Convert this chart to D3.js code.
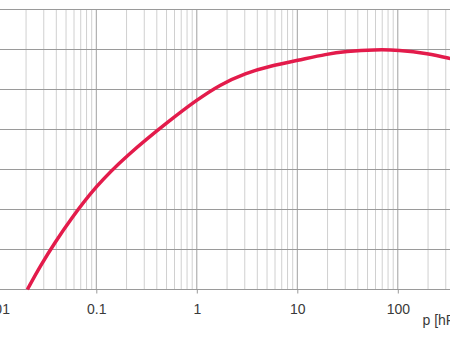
<!DOCTYPE html>
<html>
<head>
<meta charset="utf-8">
<script src="https://cdn.jsdelivr.net/npm/d3@7"></script>
<style>
  html, body { margin: 0; padding: 0; background: #fff; overflow: hidden; }
  text { font-family: "Liberation Sans", Arial, sans-serif; }
</style>
</head>
<body>
<div id="chart"></div>
<script>
const width = 450, height = 338;

// pressure p [hPa] and the curve value
const pressure = [0.0206, 0.0277, 0.0391, 0.0551, 0.0977, 0.202, 0.545, 1, 1.71, 3.04, 5.39, 10, 19.9, 30, 59.7, 101, 201, 333, 400];
const speed    = [0, 5.9, 11.9, 17.4, 25.7, 33.6, 42.4, 47.4, 51.25, 54.1, 55.9, 57.25, 58.9, 59.5, 60, 59.9, 59, 57.75, 57.3];

const decades = [0.01, 0.1, 1, 10, 100, 1000];
const tickLabels = ["0.01", "0.1", "1", "10", "100", "1000"];
const yGrid = [0, 10, 20, 30, 40, 50, 60, 70];

const x = d3.scaleLog()
  .domain([0.01, 1000])
  .range([-4.2, 498.3]);

const y = d3.scaleLinear()
  .domain([0, 70])
  .range([289.5, 9.5]);

const svg = d3.select("#chart").append("svg")
  .attr("width", width)
  .attr("height", height);

// minor + major vertical grid
const minor = [];
decades.slice(0, -1).forEach(d => {
  for (let k = 2; k <= 9; k++) minor.push(d * k);
});

svg.append("g").selectAll("line")
  .data(minor)
  .enter()
  .append("line")
    .attr("x1", d => x(d)).attr("x2", d => x(d))
    .attr("y1", y(70)).attr("y2", y(0))
    .attr("stroke", "#d0d0d0")
    .attr("stroke-width", 1);

svg.append("g").selectAll("line")
  .data(decades)
  .enter()
  .append("line")
    .attr("x1", d => x(d)).attr("x2", d => x(d))
    .attr("y1", y(70)).attr("y2", y(0))
    .attr("stroke", "#a0a0a0")
    .attr("stroke-width", 1);

// horizontal grid
svg.append("g").selectAll("line")
  .data(yGrid)
  .enter()
  .append("line")
    .attr("x1", 0).attr("x2", width)
    .attr("y1", d => y(d)).attr("y2", d => y(d))
    .attr("stroke", "#9a9a9a")
    .attr("stroke-width", 1);

// bottom axis: major ticks + labels
const axis = svg.append("g")
  .attr("transform", `translate(0,${y(0)})`)
  .call(d3.axisBottom(x)
    .tickValues(decades)
    .tickFormat((d, i) => tickLabels[i])
    .tickSize(4)
    .tickPadding(10.5)
    .tickSizeOuter(0));

axis.select(".domain").remove();
axis.selectAll(".tick line").attr("stroke", "#9a9a9a");
axis.selectAll(".tick text")
  .attr("fill", "#3a3a3a")
  .style("font-size", "14px")
  .style("font-family", "'Liberation Sans', Arial, sans-serif");

svg.append("text")
  .attr("x", 422.5)
  .attr("y", 325)
  .attr("fill", "#3a3a3a")
  .style("font-size", "14px")
  .text("p [hPa]");

// curve, smoothed through the read points
const pts = pressure.map((p, i) => [p, speed[i]]);
const line = d3.line()
  .x(d => x(d[0]))
  .y(d => y(d[1]))
  .curve(d3.curveBasis);

svg.append("path")
  .datum(pts)
  .attr("d", line)
  .attr("fill", "none")
  .attr("stroke", "#e31b4b")
  .attr("stroke-width", 3.5);
</script>
</body>
</html>
